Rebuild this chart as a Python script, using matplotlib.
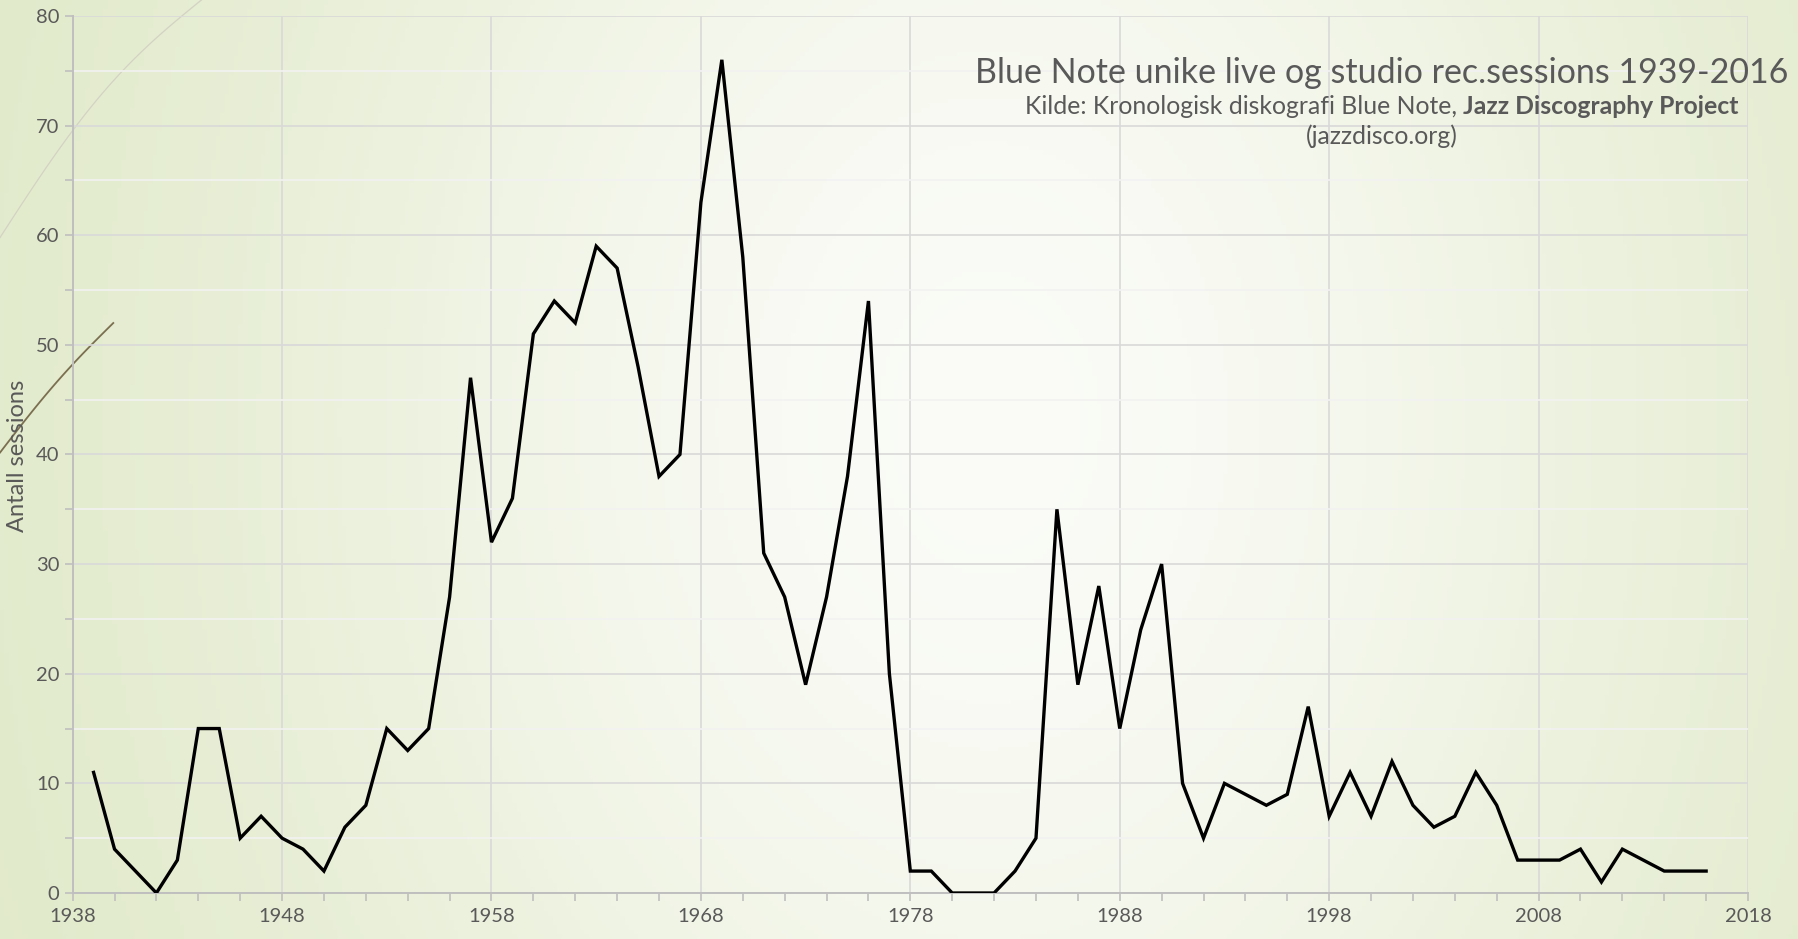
import numpy as np
import matplotlib
matplotlib.use("Agg")
import matplotlib.pyplot as plt
from matplotlib.ticker import FixedLocator, MultipleLocator

# antall unike sessions per år (lest av grafen)
years = list(range(1939, 2017))
sessions = [11, 4, 2, 0, 3, 15, 15, 5, 7, 5,
            4, 2, 6, 8, 15, 13, 15, 27, 47, 32,
            36, 51, 54, 52, 59, 57, 48, 38, 40, 63,
            76, 58, 31, 27, 19, 27, 38, 54, 20, 2,
            2, 0, 0, 0, 2, 5, 35, 19, 28, 15,
            24, 30, 10, 5, 10, 9, 8, 9, 17, 7,
            11, 7, 12, 8, 6, 7, 11, 8, 3, 3,
            3, 4, 1, 4, 3, 2, 2, 2]

x_major = list(range(1938, 2019, 10))
x_minor = list(range(1938, 2019, 2))

title = "Blue Note unike live og studio rec.sessions 1939-2016"
source_plain = "Kilde: Kronologisk diskografi Blue Note, "
source_bold = "Jazz Discography Project"
source_url = "(jazzdisco.org)"
ylabel = "Antall sessions"

font = "Lato"
grey = "#595959"

fig = plt.figure(figsize=(17.98, 9.39), dpi=100)

# bakgrunn med gradient: lys grønn i kantene, nesten hvit i midten
bg = fig.add_axes([0, 0, 1, 1])
gx, gy = np.meshgrid(np.linspace(0, 1, 400), np.linspace(0, 1, 200))
f = np.exp(-(((gx - 0.55) / 0.42) ** 2 + ((gy - 0.55) / 1.1) ** 2))
edge = np.array([0.870, 0.908, 0.770])
center = np.array([0.982, 0.986, 0.968])
img = edge + (center - edge) * f[..., None]
bg.imshow(img, extent=[0, 1, 0, 1], aspect="auto", origin="lower")
# dekorlinjer oppe til venstre (tema-pynt)
t = np.linspace(0, 1, 60)
bg.plot(0.112 * t, 0.747 + 0.253 * t + 0.025 * np.sin(np.pi * t), color="#d3d3c3", lw=0.9)
bg.plot(0.063 * t, 0.518 + 0.138 * t + 0.006 * np.sin(np.pi * t), color="#7b6f50", lw=1.3)
bg.set_xlim(0, 1)
bg.set_ylim(0, 1)
bg.axis("off")

ax = fig.add_axes([0.0404, 0.049, 0.9318, 0.934])
ax.patch.set_alpha(0)
ax.plot(years, sessions, color="black", lw=2.4, solid_joinstyle="miter", zorder=3)

ax.set_xlim(1938, 2018)
ax.set_ylim(0, 80)
ax.xaxis.set_major_locator(FixedLocator(x_major))
ax.xaxis.set_minor_locator(FixedLocator(x_minor))
ax.yaxis.set_major_locator(MultipleLocator(10))
ax.yaxis.set_minor_locator(MultipleLocator(5))
ax.grid(which="major", color="#d9d9d9", lw=1.2)
ax.grid(which="minor", axis="y", color="#f2f2f2", lw=1.2)
ax.grid(which="minor", axis="x", visible=False)
ax.set_axisbelow(True)
for s in ["top", "right"]:
    ax.spines[s].set_visible(False)
for s in ["left", "bottom"]:
    ax.spines[s].set_color("#bfbfbf")
    ax.spines[s].set_linewidth(1.4)
ax.tick_params(which="both", direction="out", length=6, width=1.2, color="#bfbfbf",
               labelsize=14.5, labelcolor=grey)
ax.tick_params(axis="x", pad=5)
for lab in ax.get_xticklabels() + ax.get_yticklabels():
    lab.set_fontfamily(font)

fig.text(0.0095, 0.515, ylabel, rotation=90, ha="center", va="center",
         fontsize=17, color=grey, family=font)

cx = 0.7686
fig.text(cx, 0.912, title, ha="center", va="baseline", fontsize=24.5, color=grey, family=font)
t1 = fig.text(cx, 0.879, source_plain, ha="right", va="baseline", fontsize=17.8, color=grey, family=font)
t2 = fig.text(cx, 0.879, source_bold, ha="left", va="baseline", fontsize=17.8, color=grey,
              family=font, fontweight="bold")
fig.text(cx, 0.847, source_url, ha="center", va="baseline", fontsize=17.8, color=grey, family=font)

# sentrer kildelinjen
fig.canvas.draw()
r = fig.canvas.get_renderer()
w1 = t1.get_window_extent(r).width / fig.bbox.width
w2 = t2.get_window_extent(r).width / fig.bbox.width
shift = (w1 - w2) / 2
t1.set_x(cx + shift)
t2.set_x(cx + shift)

fig.savefig("out.png", dpi=100)
